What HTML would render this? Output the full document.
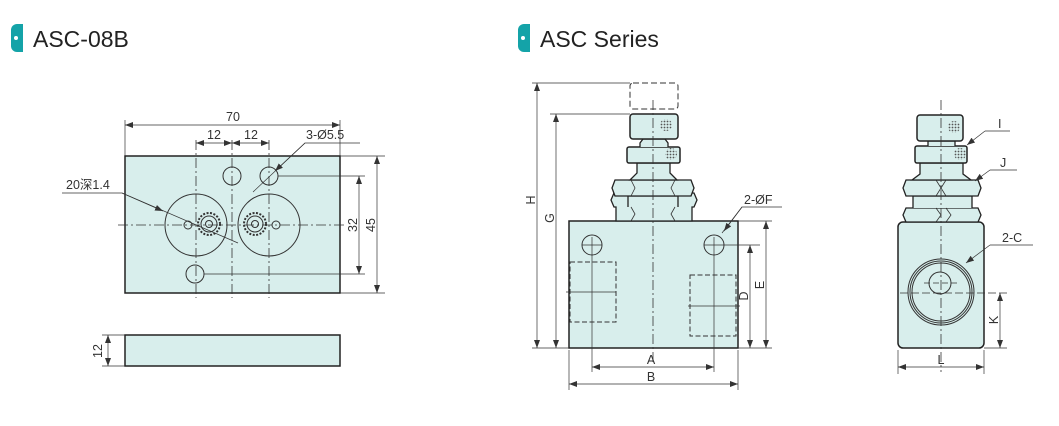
<!DOCTYPE html>
<html><head><meta charset="utf-8"><style>
html,body{margin:0;padding:0;background:#fff;}
svg{display:block;}
text{font-family:"Liberation Sans","Noto Sans CJK SC",sans-serif;fill:#333;}
</style></head><body>
<svg width="1059" height="426" viewBox="0 0 1059 426" xmlns="http://www.w3.org/2000/svg">
<defs>
<marker id="ar" markerWidth="8" markerHeight="6" refX="8" refY="3" orient="auto-start-reverse" markerUnits="userSpaceOnUse"><path d="M0,0 L8,3 L0,6z" fill="#333"/></marker>
<pattern id="dots" width="3" height="3" patternUnits="userSpaceOnUse"><circle cx="1.5" cy="1.5" r="0.9" fill="#555"/></pattern>
</defs>
<!-- headers -->
<path d="M17,24 h6 v28 h-6 a6,6 0 0 1 -6,-6 v-16 a6,6 0 0 1 6,-6z" fill="#14a3a8"/>
<circle cx="16" cy="38" r="2" fill="#fff"/>
<text x="33" y="47" font-size="23" style="fill:#222">ASC-08B</text>
<path d="M524,24 h6 v28 h-6 a6,6 0 0 1 -6,-6 v-16 a6,6 0 0 1 6,-6z" fill="#14a3a8"/>
<circle cx="523" cy="38" r="2" fill="#fff"/>
<text x="540" y="47" font-size="23" style="fill:#222">ASC Series</text>

<g stroke="#333" stroke-width="1" fill="none">
<!-- LEFT drawing -->
<rect x="125" y="156" width="215" height="137" fill="#d8eeec" stroke="#222" stroke-width="1.5"/>
<rect x="125" y="335" width="215" height="31" fill="#d8eeec" stroke="#222" stroke-width="1.5"/>
<g stroke-dasharray="10,3,2,3" stroke-width="0.8">
<line x1="196" y1="140" x2="196" y2="298"/>
<line x1="232" y1="140" x2="232" y2="298"/>
<line x1="269" y1="140" x2="269" y2="298"/>
<line x1="118" y1="225" x2="346" y2="225"/>
</g>
<circle cx="196" cy="225" r="31"/>
<circle cx="269" cy="225" r="31"/>
<circle cx="232" cy="176" r="9"/>
<circle cx="269" cy="176" r="9"/>
<circle cx="195" cy="274" r="9"/>
<circle cx="209" cy="224" r="11" stroke-width="2" stroke-dasharray="2,1.5"/>
<circle cx="209" cy="224" r="8"/>
<circle cx="209" cy="224" r="3.5"/>
<circle cx="255" cy="224" r="11" stroke-width="2" stroke-dasharray="2,1.5"/>
<circle cx="255" cy="224" r="8"/>
<circle cx="255" cy="224" r="3.5"/>
<circle cx="188" cy="225" r="4"/>
<circle cx="276" cy="225" r="4"/>
<!-- dims -->
<line x1="125" y1="120" x2="125" y2="156" stroke-width="0.7"/>
<line x1="340" y1="120" x2="340" y2="156" stroke-width="0.7"/>
<line x1="125" y1="125" x2="340" y2="125" stroke-width="0.7" marker-start="url(#ar)" marker-end="url(#ar)"/>
<line x1="196" y1="143" x2="232" y2="143" stroke-width="0.7" marker-start="url(#ar)" marker-end="url(#ar)"/>
<line x1="232" y1="143" x2="269" y2="143" stroke-width="0.7" marker-start="url(#ar)" marker-end="url(#ar)"/>
<line x1="340" y1="156" x2="385" y2="156" stroke-width="0.7"/>
<line x1="340" y1="293" x2="385" y2="293" stroke-width="0.7"/>
<line x1="278" y1="176" x2="365" y2="176" stroke-width="0.7"/>
<line x1="204" y1="274" x2="365" y2="274" stroke-width="0.7"/>
<line x1="359" y1="176" x2="359" y2="274" stroke-width="0.7" marker-start="url(#ar)" marker-end="url(#ar)"/>
<line x1="377" y1="156" x2="377" y2="293" stroke-width="0.7" marker-start="url(#ar)" marker-end="url(#ar)"/>
<line x1="102" y1="335" x2="125" y2="335" stroke-width="0.7"/>
<line x1="102" y1="366" x2="125" y2="366" stroke-width="0.7"/>
<line x1="108" y1="335" x2="108" y2="366" stroke-width="0.7" marker-start="url(#ar)" marker-end="url(#ar)"/>
<polyline points="360,143 305,143 253,192" stroke-width="0.7"/>
<line x1="305" y1="143" x2="275" y2="171" stroke-width="0.7" marker-end="url(#ar)"/>
<polyline points="62,193 122,193 238,243" stroke-width="0.7"/>
<line x1="122" y1="193" x2="163" y2="211" stroke-width="0.7" marker-end="url(#ar)"/>

<!-- MIDDLE drawing -->
<rect x="630" y="83" width="48" height="26" rx="3" stroke-dasharray="6,3" stroke-width="1" style="stroke-dashoffset:0"/>
<rect x="569" y="221" width="169" height="127" fill="#d8eeec" stroke="#222" stroke-width="1.5"/>
<path d="M616,221 v-14 h-2 l-3,-7 l3,-7 h80 l3,7 l-3,7 h-2 v14z" fill="#d8eeec" stroke="#222" stroke-width="1.3"/>
<path d="M628,207 v-11 h50 v11" fill="#d8eeec" stroke="#222" stroke-width="1.3"/>
<path d="M615,196 l-3,-8 l3,-8 h76 l3,8 l-3,8z" fill="#d8eeec" stroke="#222" stroke-width="1.3"/>
<path d="M630,180 l7,-7 v-10 h33 v10 l7,7z" fill="#d8eeec" stroke="#222" stroke-width="1.3"/>
<rect x="627" y="147" width="53" height="16" rx="2" fill="#d8eeec" stroke="#222" stroke-width="1.5"/>
<path d="M640,147 v-4 l3,-4 h22 l3,4 v4" fill="#d8eeec" stroke="#222" stroke-width="1.3"/>
<rect x="630" y="114" width="48" height="25" rx="3" fill="#d8eeec" stroke="#222" stroke-width="1.5"/>
<circle cx="666" cy="125" r="6" fill="url(#dots)" stroke="none"/>
<circle cx="671" cy="154" r="6" fill="url(#dots)" stroke="none"/>
<path d="M631,180 l4,8 l-4,8 M675,180 l-4,8 l4,8 M631,207 l4,7 l-4,7 M675,207 l-4,7 l4,7" stroke-width="0.8"/>
<line x1="653" y1="100" x2="653" y2="365" stroke-dasharray="10,3,2,3" stroke-width="0.8"/>
<circle cx="592" cy="245" r="10"/>
<circle cx="714" cy="245" r="10"/>
<line x1="582" y1="245" x2="602" y2="245" stroke-width="0.7"/>
<line x1="592" y1="237" x2="592" y2="372" stroke-width="0.7"/>
<line x1="714" y1="237" x2="714" y2="372" stroke-width="0.7"/>
<line x1="704" y1="245" x2="760" y2="245" stroke-width="0.7"/>
<rect x="570" y="262" width="46" height="60" stroke-dasharray="5,2.5" stroke-width="1"/>
<rect x="690" y="275" width="46" height="61" stroke-dasharray="5,2.5" stroke-width="1"/>
<line x1="566" y1="292" x2="616" y2="292" stroke-width="0.7"/>
<line x1="688" y1="306" x2="740" y2="306" stroke-width="0.7"/>
<line x1="532" y1="83" x2="630" y2="83" stroke-width="0.7"/>
<line x1="550" y1="114" x2="630" y2="114" stroke-width="0.7"/>
<line x1="532" y1="348" x2="569" y2="348" stroke-width="0.7"/>
<line x1="537" y1="83" x2="537" y2="348" stroke-width="0.7" marker-start="url(#ar)" marker-end="url(#ar)"/>
<line x1="556" y1="114" x2="556" y2="348" stroke-width="0.7" marker-start="url(#ar)" marker-end="url(#ar)"/>
<line x1="738" y1="221" x2="772" y2="221" stroke-width="0.7"/>
<line x1="738" y1="348" x2="772" y2="348" stroke-width="0.7"/>
<line x1="766" y1="221" x2="766" y2="348" stroke-width="0.7" marker-start="url(#ar)" marker-end="url(#ar)"/>
<line x1="750" y1="245" x2="750" y2="348" stroke-width="0.7" marker-start="url(#ar)" marker-end="url(#ar)"/>
<line x1="569" y1="350" x2="569" y2="390" stroke-width="0.7"/>
<line x1="738" y1="350" x2="738" y2="390" stroke-width="0.7"/>
<line x1="592" y1="367" x2="714" y2="367" stroke-width="0.7" marker-start="url(#ar)" marker-end="url(#ar)"/>
<line x1="569" y1="384" x2="738" y2="384" stroke-width="0.7" marker-start="url(#ar)" marker-end="url(#ar)"/>
<polyline points="782,207 742,207 722,233" stroke-width="0.7"/>
<line x1="742" y1="207" x2="724" y2="231" stroke-width="0.7" marker-end="url(#ar)"/>

<!-- RIGHT drawing -->
<rect x="898" y="222" width="86" height="126" rx="5" fill="#d8eeec" stroke="#222" stroke-width="1.5"/>
<path d="M906,222 l-3,-7 l3,-7 h72 l3,7 l-3,7z" fill="#d8eeec" stroke="#222" stroke-width="1.3"/>
<path d="M913,208 v-12 h59 v12" fill="#d8eeec" stroke="#222" stroke-width="1.3"/>
<path d="M906,196 l-3,-8 l3,-8 h72 l3,8 l-3,8z" fill="#d8eeec" stroke="#222" stroke-width="1.3"/>
<path d="M912,180 l8,-6 v-11 h43 v11 l8,6z" fill="#d8eeec" stroke="#222" stroke-width="1.3"/>
<rect x="915" y="146" width="52" height="17" rx="2" fill="#d8eeec" stroke="#222" stroke-width="1.5"/>
<path d="M928,146 v-5 h27 v5" fill="#d8eeec" stroke="#222" stroke-width="1.3"/>
<rect x="917" y="115" width="46" height="26" rx="3" fill="#d8eeec" stroke="#222" stroke-width="1.5"/>
<circle cx="954" cy="127" r="6" fill="url(#dots)" stroke="none"/>
<circle cx="960" cy="154" r="6" fill="url(#dots)" stroke="none"/>
<path d="M936,180 l5,8 l-5,8 M946,180 l-5,8 l5,8 M936,208 l5,7 l-5,7 M946,208 l5,7 l-5,7" stroke-width="0.8"/>
<line x1="941" y1="100" x2="941" y2="372" stroke-dasharray="10,3,2,3" stroke-width="0.8"/>
<circle cx="941" cy="292" r="33"/>
<circle cx="941" cy="292" r="31"/>
<circle cx="941" cy="292" r="29"/>
<circle cx="940" cy="283" r="11"/>
<line x1="924" y1="283" x2="958" y2="283" stroke-width="0.7" stroke-dasharray="6,3"/>
<line x1="900" y1="293" x2="1007" y2="293" stroke-width="0.7" stroke-dasharray="8,3"/>
<line x1="984" y1="348" x2="1007" y2="348" stroke-width="0.7"/>
<line x1="1000" y1="293" x2="1000" y2="348" stroke-width="0.7" marker-start="url(#ar)" marker-end="url(#ar)"/>
<line x1="898" y1="350" x2="898" y2="374" stroke-width="0.7"/>
<line x1="984" y1="350" x2="984" y2="374" stroke-width="0.7"/>
<line x1="898" y1="367" x2="984" y2="367" stroke-width="0.7" marker-start="url(#ar)" marker-end="url(#ar)"/>
<polyline points="1010,131 985,131" stroke-width="0.7"/>
<line x1="985" y1="131" x2="967" y2="145" stroke-width="0.7" marker-end="url(#ar)"/>
<polyline points="1017,170 990,170" stroke-width="0.7"/>
<line x1="990" y1="170" x2="975" y2="181" stroke-width="0.7" marker-end="url(#ar)"/>
<polyline points="1033,245 990,245" stroke-width="0.7"/>
<line x1="990" y1="245" x2="966" y2="263" stroke-width="0.7" marker-end="url(#ar)"/>
</g>

<g font-size="12.5">
<text x="233" y="121" text-anchor="middle">70</text>
<text x="214" y="139" text-anchor="middle">12</text>
<text x="251" y="139" text-anchor="middle">12</text>
<text x="306" y="139">3-Ø5.5</text>
<text x="66" y="189">20深1.4</text>
<text transform="translate(357,225) rotate(-90)" text-anchor="middle">32</text>
<text transform="translate(375,225) rotate(-90)" text-anchor="middle">45</text>
<text transform="translate(102,351) rotate(-90)" text-anchor="middle">12</text>
<text transform="translate(535,200) rotate(-90)" text-anchor="middle">H</text>
<text transform="translate(554,218) rotate(-90)" text-anchor="middle">G</text>
<text transform="translate(764,285) rotate(-90)" text-anchor="middle">E</text>
<text transform="translate(748,296) rotate(-90)" text-anchor="middle">D</text>
<text x="651" y="364" text-anchor="middle">A</text>
<text x="651" y="381" text-anchor="middle">B</text>
<text x="744" y="204">2-ØF</text>
<text transform="translate(998,320) rotate(-90)" text-anchor="middle">K</text>
<text x="941" y="364" text-anchor="middle">L</text>
<text x="998" y="128">I</text>
<text x="1000" y="167">J</text>
<text x="1002" y="242">2-C</text>
</g>
</svg>
</body></html>
